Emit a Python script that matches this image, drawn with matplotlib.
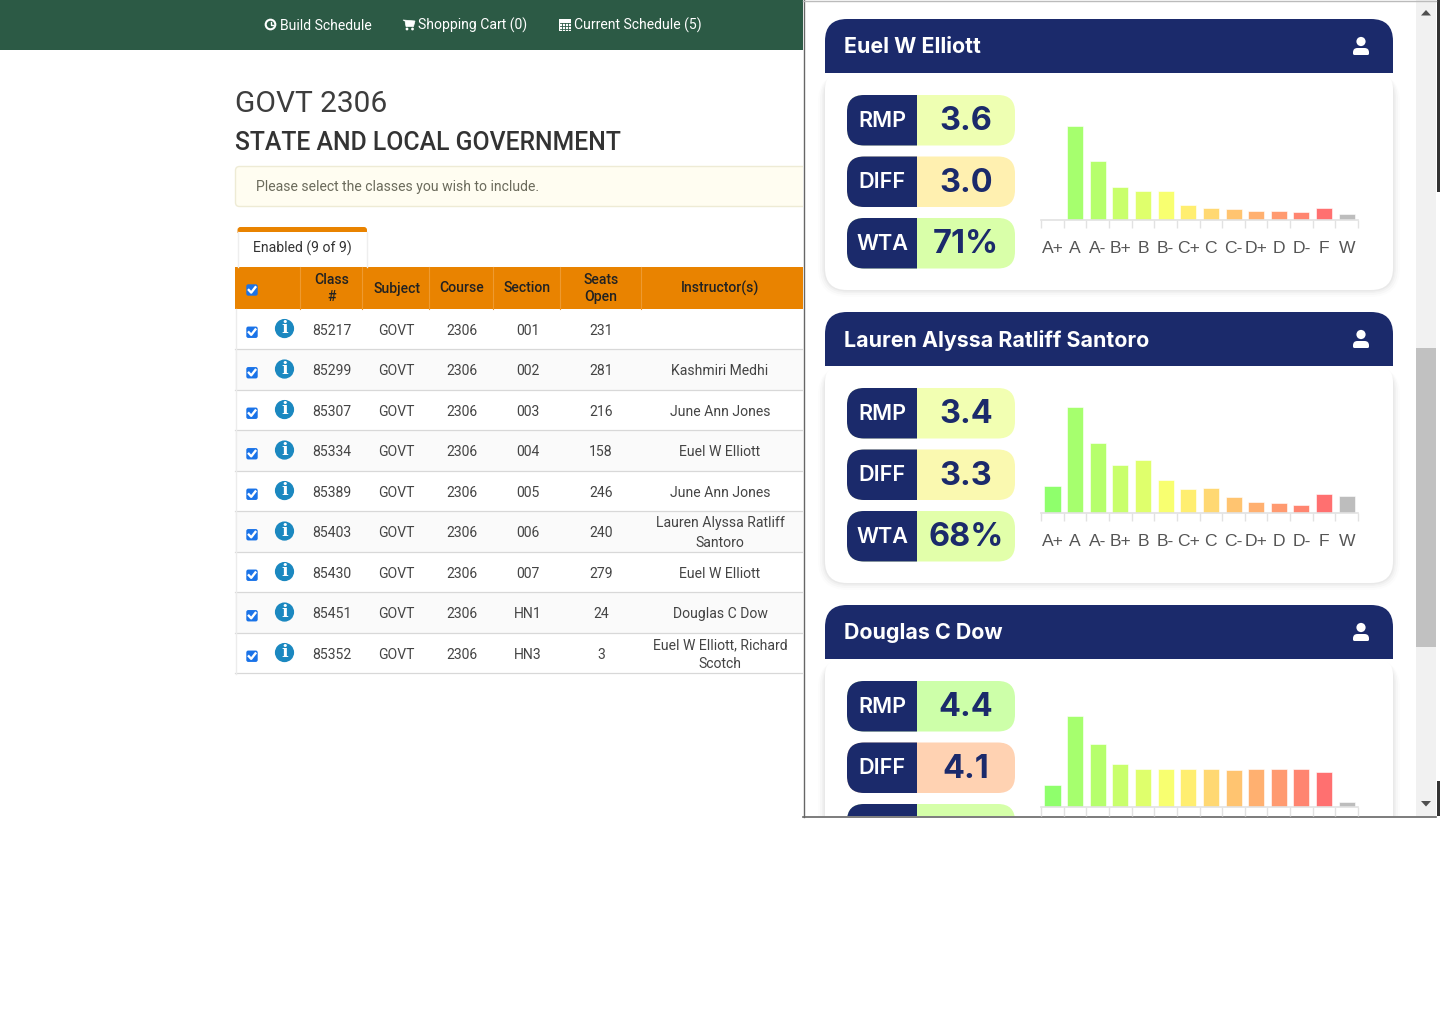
import matplotlib
matplotlib.use("Agg")
import matplotlib.pyplot as plt
from matplotlib.patches import Rectangle, FancyBboxPatch, PathPatch, Circle, Polygon
from matplotlib.path import Path

# ---------- data ----------
grades = ["A+", "A", "A-", "B+", "B", "B-", "C+", "C", "C-", "D+", "D", "D-", "F", "W"]
grade_colors = ["#8FFF6C", "#A6FF6E", "#B6FF6C", "#C9FF6C", "#DFFF6C", "#F8FF70", "#FFEE70", "#FFD872",
                "#FFC470", "#FFB070", "#FF9A70", "#FF8570", "#FF7070", "#BDBDBD"]
elliott_dist = [0, 94.5, 59, 33, 29, 29, 15, 12, 11, 9, 9, 8, 12, 6]
santoro_dist = [27, 106, 70, 48, 53, 33.5, 24, 25, 16.5, 11, 10, 8, 19, 17]
dow_dist = [22, 91, 63, 43, 37.5, 37.5, 37.5, 37.5, 37, 37.5, 37.5, 37.5, 35, 5]

names = ["Euel W Elliott", "Lauren Alyssa Ratliff Santoro", "Douglas C Dow"]
metric_labels = ["RMP", "DIFF", "WTA"]
metric_values = [["3.6", "3.0", "71%"], ["3.4", "3.3", "68%"], ["4.4", "4.1", ""]]
metric_colors = [["#EEFFB2", "#FFF0B0", "#D9FFA9"], ["#F2FFB2", "#FAF9B0", "#E2FFAA"], ["#CDFFA9", "#FFD2B2", "#D5FFA9"]]

col_headers = ["Class\n#", "Subject", "Course", "Section", "Seats\nOpen", "Instructor(s)"]
class_nums = ["85217", "85299", "85307", "85334", "85389", "85403", "85430", "85451", "85352"]
sections = ["001", "002", "003", "004", "005", "006", "007", "HN1", "HN3"]
seats = ["231", "281", "216", "158", "246", "240", "279", "24", "3"]
instructors = ["", "Kashmiri Medhi", "June Ann Jones", "Euel W Elliott", "June Ann Jones",
               "Lauren Alyssa Ratliff\nSantoro", "Euel W Elliott", "Douglas C Dow", "Euel W Elliott, Richard\nScotch"]

NAVY = "#1B2A6B"
W, H = 1440, 1024
fig = plt.figure(figsize=(W / 100, H / 100), dpi=100, facecolor="white")
page = fig.add_axes([0, 0, 1, 1])
page.set_xlim(0, W)
page.set_ylim(H, 0)
page.axis("off")
RB = ["Roboto", "DejaVu Sans"]
INT = ["Inter", "DejaVu Sans"]


def T(x, y, s, px=14, color="#444", ha="center", weight="normal", family=RB, z=5, clip=None, ls=1.2):
    t = page.text(x, y, s, fontsize=px * 0.72, color=color, ha=ha, va="center", fontweight=weight,
                  family=family, zorder=z, linespacing=ls)
    if clip is not None:
        t.set_clip_path(clip)
    return t


def rect(x0, y0, x1, y1, c, z=1, **k):
    p = Rectangle((x0, y0), x1 - x0, y1 - y0, fc=c, ec="none", zorder=z, **k)
    page.add_patch(p)
    return p


def rrect(x0, y0, x1, y1, r, c, z=1, ec="none", lw=0, alpha=None):
    p = FancyBboxPatch((x0, y0), x1 - x0, y1 - y0, boxstyle=f"round,pad=0,rounding_size={r}", fc=c, ec=ec,
                       lw=lw, zorder=z, alpha=alpha)
    page.add_patch(p)
    return p


def corners(x0, y0, x1, y1, tl, tr, br, bl, c, z=1):
    M, L, Q = Path.MOVETO, Path.LINETO, Path.CURVE3
    v = [(x0 + tl, y0), (x1 - tr, y0), (x1, y0), (x1, y0 + tr), (x1, y1 - br), (x1, y1), (x1 - br, y1),
         (x0 + bl, y1), (x0, y1), (x0, y1 - bl), (x0, y0 + tl), (x0, y0), (x0 + tl, y0), (x0 + tl, y0)]
    k = [M, L, Q, Q, L, Q, Q, L, Q, Q, L, Q, Q, Path.CLOSEPOLY]
    p = PathPatch(Path(v, k), fc=c, ec="none", zorder=z)
    page.add_patch(p)
    return p


# ---------- navbar ----------
rect(0, 0, 803, 50, "#2C5A45", z=1)
for x, s in [(280.5, "Build Schedule"), (418.5, "Shopping Cart (0)"), (574.5, "Current Schedule (5)")]:
    T(x, 25.5, s, 14.05, "white", ha="left")
page.add_patch(Circle((270.5, 24.5), 4.8, fc="none", ec="white", lw=1.5, zorder=5))
page.plot([270.5, 270.5, 273], [21.5, 25, 25], color="white", lw=1, zorder=5)
page.add_patch(Polygon([(403, 20), (415, 21), (413.5, 26.5), (406, 26.5), (405, 21)], fc="white", ec="white", lw=.5, zorder=5))
page.add_patch(Circle((407, 29), 1.4, fc="white", ec="none", zorder=5))
page.add_patch(Circle((412.5, 29), 1.4, fc="white", ec="none", zorder=5))
rect(558.5, 18.5, 571, 31, "white", z=5)
for gx in (561.5, 564.7, 568):
    page.plot([gx, gx], [23, 30], color="#2C5A45", lw=.6, zorder=6)
for gy in (22.5, 25.5, 28.5):
    page.plot([559.5, 570], [gy, gy], color="#2C5A45", lw=.6, zorder=6)

# ---------- titles ----------
T(235, 104, "GOVT 2306", 29.9, "#3d3d3d", ha="left")
T(235, 143.5, "STATE AND LOCAL GOVERNMENT", 24.7, "#333", ha="left", weight="medium")
rrect(235.5, 166.5, 830, 206.5, 4, "#FFFDF1", z=1, ec="#EEEBD5", lw=1)
T(255.5, 186.5, "Please select the classes you wish to include.", 14, "#6b6b5c", ha="left")

# ---------- tab ----------
corners(237.5, 227, 367, 233, 3, 3, 0, 0, "#E98300", z=2)
rect(237.5, 232, 367, 267, "white", z=2)
page.plot([367, 367], [232, 267], color="#EEEEEE", lw=1, zorder=3)
page.plot([237.5, 237.5], [232, 267], color="#EEEEEE", lw=1, zorder=3)
T(302.5, 248, "Enabled (9 of 9)", 14, "#333")

# ---------- table ----------
rect(235, 267, 803, 308.5, "#E98300", z=1)
col_x = [331.5, 396.5, 461.5, 527.5, 601, 720]
seps = [299.5, 362, 429, 493, 560, 641]
for sx in seps:
    page.plot([sx, sx], [267, 308.5], color="#EE9A30", lw=.8, zorder=2)
for x, s in zip(col_x, col_headers):
    T(x, 288.5, s, 14, "#222", weight="medium", ls=1.22)

rows_y = [309, 349.5, 390, 430.5, 471, 511.5, 552, 592.5, 633]
rh = 40.5


def checkbox(cx, cy):
    rrect(cx - 5.7, cy - 5.7, cx + 5.7, cy + 5.7, 2, "#1A73E8", z=5)
    page.plot([cx - 3.2, cx - 0.8, cx + 3.4], [cy, cy + 2.6, cy - 2.8], color="white", lw=1.7, zorder=6)


checkbox(252, 290)
for i, y in enumerate(rows_y):
    if i % 2 == 1:
        rect(235, y, 803, y + rh, "#FAFAFA", z=1)
    page.plot([235, 803], [y + rh - 0.5, y + rh - 0.5], color="#D8D8D8", lw=.9, zorder=2)
    cy = y + rh / 2
    checkbox(252, cy + 3)
    page.add_patch(Circle((284.5, cy - 0.7), 9.6, fc="#1B88C0", ec="none", zorder=5))
    page.text(284.5, cy - 0.7, "i", fontsize=12.5, color="white", ha="center", va="center",
              fontweight="bold", family="DejaVu Serif", zorder=6)
    T(col_x[0], cy + 1.3, class_nums[i])
    T(col_x[1], cy + 1.3, "GOVT")
    T(col_x[2], cy + 1.3, "2306")
    T(col_x[3], cy + 1.3, sections[i])
    T(col_x[4], cy + 1.3, seats[i])
    T(col_x[5], cy + 1.3, instructors[i], ls=1.48)
page.plot([235.5, 235.5], [309, 674], color="#ECECEC", lw=1, zorder=2)

# ---------- modal ----------
rect(803, 0, 1440, 817, "white", z=10)
page.plot([803.5, 803.5], [0, 816.5], color="#666", lw=1, zorder=30)
page.plot([803, 1436], [816.5, 816.5], color="#666", lw=1.2, zorder=30)
page.plot([803, 1436], [0.5, 0.5], color="#BBBBBB", lw=1, zorder=30)
rect(1416, 0, 1436, 816, "#F1F1F1", z=11)
rect(1416, 348, 1436, 647, "#C1C1C1", z=12)
rect(1437, 0, 1440, 192, "#333333", z=12)
rect(1437, 781, 1440, 816, "#333333", z=12)
page.add_patch(Polygon([(1421, 15.5), (1431, 15.5), (1426, 10)], fc="#505050", ec="none", zorder=13))
page.add_patch(Polygon([(1421, 801), (1431, 801), (1426, 806.5)], fc="#505050", ec="none", zorder=13))

modal_clip = Rectangle((804, 1), 611, 815, transform=page.transData)

baselines = [220, 513, 806.5]
dists = [elliott_dist, santoro_dist, dow_dist]
for c, (name, base, dist) in enumerate(zip(names, baselines, dists)):
    top = 19 + 293 * c
    # shadow
    for grow, a in [(7, .012), (5, .018), (3, .025), (1.5, .03)]:
        s = rrect(825 - grow, top + 54, 1393 + grow, top + 271 + grow, 22 + grow, "#000000", z=14, alpha=a)
        s.set_clip_path(modal_clip)
    b = corners(825, top + 54, 1393, top + 271, 16, 16, 22, 22, "white", z=15)
    b.set_clip_path(modal_clip)
    h = corners(825, top, 1393, top + 54, 22, 22, 0, 0, NAVY, z=16)
    T(844.5, top + 28.3, name, 21.4, "white", ha="left", weight="bold", family=INT, z=17)
    # person glyph
    page.add_patch(Circle((1361, top + 22.5), 4.6, fc="white", ec="none", zorder=17))
    corners(1353, top + 29, 1369, top + 36, 4.5, 4.5, 1.5, 1.5, "white", z=17)
    for m in range(3):
        py = top + 76 + 61.5 * m
        if py > 816:
            continue
        v = rrect(847, py, 1015, py + 50.5, 17, metric_colors[c][m], z=17)
        v.set_clip_path(modal_clip)
        l = corners(847, py, 917, py + 50.5, 17, 0, 0, 17, NAVY, z=18)
        l.set_clip_path(modal_clip)
        if metric_values[c][m]:
            T(882, py + 25.8, metric_labels[m], 21.6, "white", weight="semibold", family=INT, z=19)
            T(966, py + 26.8, metric_values[c][m], 32.5, NAVY, weight="bold", family=INT, z=19)
    # grade chart
    x0, x1 = 1041.2, 1358
    ptop = base - 112
    ax = fig.add_axes([x0 / W, 1 - base / H, (x1 - x0) / W, (base - ptop) / H], facecolor="none", zorder=5)
    xs = list(range(len(grades)))
    ax.bar(xs, dist, width=0.71, color=grade_colors, edgecolor="#FFFFFF", linewidth=0.4)
    ax.set_xlim(-0.5, 13.5)
    ax.set_ylim(0, base - ptop)
    for sp in ("top", "left", "right"):
        ax.spines[sp].set_visible(False)
    ax.spines["bottom"].set_color("#E2E2E2")
    ax.spines["bottom"].set_linewidth(1.2)
    ax.set_yticks([])
    ax.set_xticks([i - 0.5 for i in range(15)], minor=True)
    ax.tick_params(axis="x", which="minor", length=5.8 if c < 2 else 6.4, width=1, color="#E2E2E2")
    ax.set_xticks(xs)
    if c < 2:
        ax.set_xticklabels(grades, fontsize=12.6, color="#555555", family="Liberation Sans")
    else:
        ax.set_xticklabels([])
    ax.tick_params(axis="x", which="major", length=0, pad=14.8)

fig.savefig("out.png", dpi=100, facecolor="white")
